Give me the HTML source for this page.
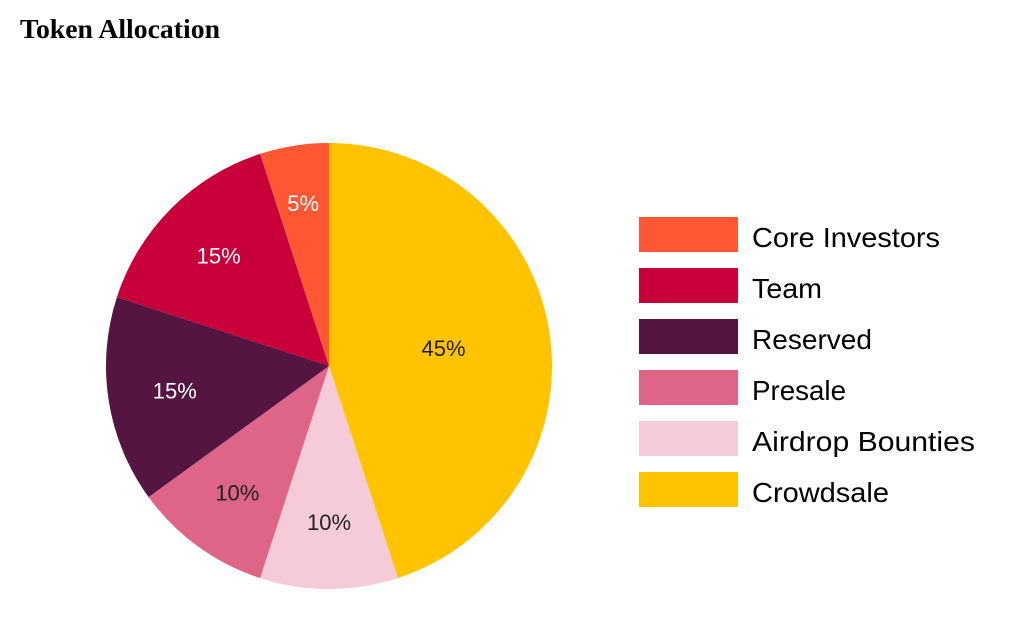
<!DOCTYPE html>
<html><head><meta charset="utf-8"><style>
html,body{margin:0;padding:0;background:#fff;width:1020px;height:628px;overflow:hidden}
</style></head><body>
<svg id="chart" width="1020" height="628" xmlns="http://www.w3.org/2000/svg">
<text x="20" y="38" font-family="Liberation Serif, serif" font-weight="bold" font-size="27" fill="#000" textLength="200" lengthAdjust="spacingAndGlyphs">Token Allocation</text>
<g id="pie"></g>
<g id="legend"></g>
</svg>
<script>
const categories = ["Crowdsale","Airdrop Bounties","Presale","Reserved","Team","Core Investors"];
const values = [45,10,10,15,15,5];
const colors = ["#FFC300","#F4CBD7","#DE6587","#541640","#C70039","#FF5733"];
const labelColors = ["#222","#222","#222","#fff","#fff","#fff"];
const legendOrder = ["Core Investors","Team","Reserved","Presale","Airdrop Bounties","Crowdsale"];
const legendWidths = [188,70,120,94,223,137];

const NS="http://www.w3.org/2000/svg";
const cx=329, cy=366, R=223;
const pie=document.getElementById('pie');
const total=values.reduce((a,b)=>a+b,0);
function pt(a,r){return [cx+Math.sin(a)*r, cy-Math.cos(a)*r];}
let acc=0;
values.forEach((v,i)=>{
  const a0=acc/total*2*Math.PI; acc+=v; const a1=acc/total*2*Math.PI;
  const p0=pt(a0,R), p1=pt(a1,R);
  const path=document.createElementNS(NS,'path');
  path.setAttribute('d',`M${cx},${cy} L${p0[0]},${p0[1]} A${R},${R} 0 ${a1-a0>Math.PI?1:0} 1 ${p1[0]},${p1[1]} Z`);
  path.setAttribute('fill',colors[i]);
  
  
  pie.appendChild(path);
  const am=(a0+a1)/2;
  const lr = v/total>=0.4 ? R*0.52 : (v/total<0.08 ? R*0.74 : R*0.7);
  const lp=pt(am,lr);
  const t=document.createElementNS(NS,'text');
  t.setAttribute('x',lp[0]); t.setAttribute('y',lp[1]+8);
  t.setAttribute('text-anchor','middle');
  t.setAttribute('font-family','Liberation Sans, sans-serif');
  t.setAttribute('font-size','22');
  t.setAttribute('fill',labelColors[i]);
  
  
  t.textContent=v+'%';
  pie.appendChild(t);
});
const lg=document.getElementById('legend');
legendOrder.forEach((name,j)=>{
  const i=categories.indexOf(name);
  const y=217+j*51;
  const r=document.createElementNS(NS,'rect');
  r.setAttribute('x',639); r.setAttribute('y',y); r.setAttribute('width',99); r.setAttribute('height',35);
  r.setAttribute('fill',colors[i]);
  
  
  lg.appendChild(r);
  const t=document.createElementNS(NS,'text');
  t.setAttribute('x',752); t.setAttribute('y',y+30);
  t.setAttribute('font-family','Liberation Sans, sans-serif');
  t.setAttribute('font-size','28');
  t.setAttribute('fill','#000');
  t.setAttribute('textLength',legendWidths[j]);
  t.setAttribute('lengthAdjust','spacingAndGlyphs');
  
  
  t.textContent=name;
  lg.appendChild(t);
});
</script>
</body></html>
